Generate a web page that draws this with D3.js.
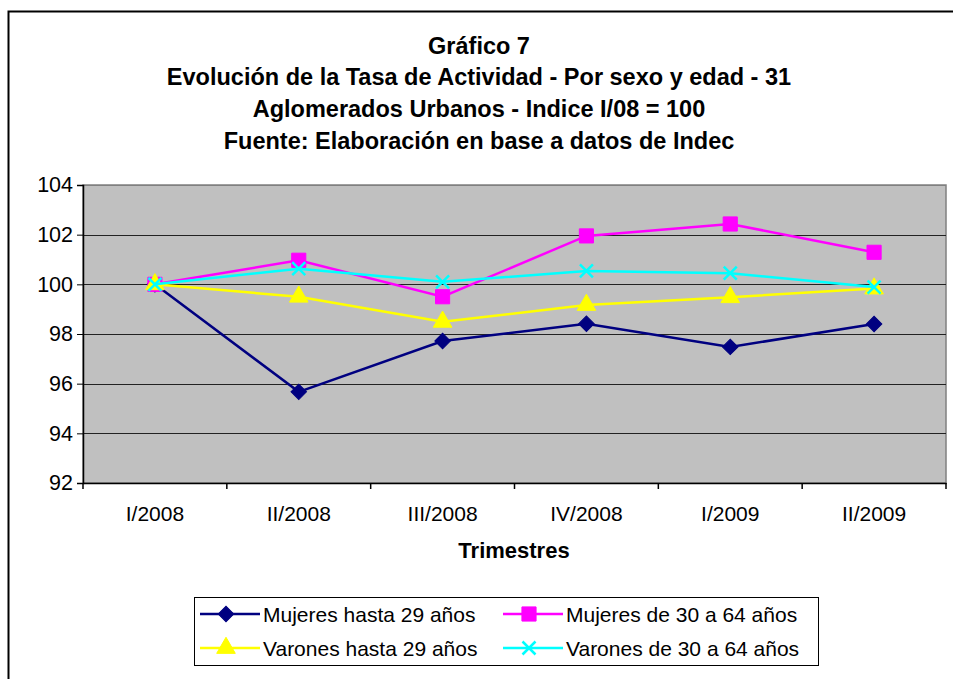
<!DOCTYPE html>
<html>
<head>
<meta charset="utf-8">
<script src="https://cdn.jsdelivr.net/npm/d3@7"></script>
<style>
  body { margin: 0; background: #fff; }
  svg { display: block; font-family: "Liberation Sans", Arial, sans-serif; }
</style>
</head>
<body>
<div id="chart"></div>
<script>
const trimestres = ['I/2008', 'II/2008', 'III/2008', 'IV/2008', 'I/2009', 'II/2009']
const mujeresHasta29 = [100, 95.67, 97.72, 98.41, 97.48, 98.40]
const mujeres30a64 = [100, 100.97, 99.50, 101.95, 102.43, 101.29]
const varonesHasta29 = [100, 99.50, 98.49, 99.17, 99.48, 99.83]
const varones30a64 = [100, 100.63, 100.10, 100.54, 100.45, 99.89]
const yTicks = [92, 94, 96, 98, 100, 102, 104]
const titleLines = [
  'Gráfico 7',
  'Evolución de la Tasa de Actividad - Por sexo y edad - 31',
  'Aglomerados Urbanos - Indice I/08 = 100',
  'Fuente: Elaboración en base a datos de Indec'
]

const series = [
  { name: 'Mujeres hasta 29 años', values: mujeresHasta29, color: '#000080', symbol: 'diamond' },
  { name: 'Mujeres de 30 a 64 años', values: mujeres30a64, color: '#FF00FF', symbol: 'square' },
  { name: 'Varones hasta 29 años', values: varonesHasta29, color: '#FFFF00', symbol: 'triangle' },
  { name: 'Varones de 30 a 64 años', values: varones30a64, color: '#00FFFF', symbol: 'cross' }
]

const width = 953
const height = 679
const plot = { left: 83, top: 185, right: 946, bottom: 483 }
const FONT = '"Liberation Sans", Arial, sans-serif'

const svg = d3.select('#chart').append('svg')
    .attr('width', width)
    .attr('height', height)

// outer frame (only left and top visible in the crop)
svg.append('path')
    .attr('d', `M8.5,${height} V11.5 H${width}`)
    .attr('fill', 'none')
    .attr('stroke', '#000')
    .attr('stroke-width', 2)

const title = svg.append('text')
    .attr('text-anchor', 'middle')
    .attr('font-weight', 'bold')
    .attr('font-size', 23.5)
titleLines.forEach((line, i) => {
  title.append('tspan')
      .attr('x', 479)
      .attr('y', 53.5 + i * 31.7)
      .text(line)
})

const xScale = d3.scaleBand()
    .domain(trimestres)
    .range([plot.left, plot.right])

const yScale = d3.scaleLinear()
    .domain([92, 104])
    .range([plot.bottom, plot.top])

svg.append('rect')
    .attr('x', plot.left)
    .attr('y', plot.top)
    .attr('width', plot.right - plot.left)
    .attr('height', plot.bottom - plot.top)
    .attr('fill', '#C0C0C0')
    .attr('stroke', '#808080')
    .attr('stroke-width', 1.5)

svg.append('g')
    .selectAll('line')
    .data(yTicks.slice(1))
    .enter().append('line')
    .attr('x1', plot.left)
    .attr('x2', plot.right)
    .attr('y1', d => Math.round(yScale(d)) + 0.5)
    .attr('y2', d => Math.round(yScale(d)) + 0.5)
    .attr('stroke', d => d === 104 ? '#808080' : '#222')
    .attr('stroke-width', 1.2)

const yAxis = d3.axisLeft(yScale)
    .tickValues(yTicks)
    .tickSize(6)
    .tickPadding(4)

const yAxisEl = svg.append('g')
    .attr('transform', `translate(${plot.left}, 0)`)
    .call(yAxis)
yAxisEl.selectAll('text').attr('font-size', 21.5).attr('fill', '#000').attr('font-family', FONT)
yAxisEl.select('.domain').attr('stroke', '#000').attr('stroke-width', 1.5)

const xAxis = d3.axisBottom(xScale)
    .tickSize(0)
    .tickPadding(23)

const xAxisEl = svg.append('g')
    .attr('transform', `translate(0, ${plot.bottom})`)
    .call(xAxis)
xAxisEl.selectAll('text').attr('font-size', 21).attr('fill', '#000').attr('font-family', FONT)
xAxisEl.select('.domain').attr('stroke', '#000').attr('stroke-width', 1.5)

// category boundary ticks
xAxisEl.selectAll('.boundary')
    .data(trimestres.concat(['end']))
    .enter().append('line')
    .attr('x1', (d, i) => plot.left + i * xScale.step())
    .attr('x2', (d, i) => plot.left + i * xScale.step())
    .attr('y1', 0)
    .attr('y2', 6)
    .attr('stroke', '#000')
    .attr('stroke-width', 1.5)

svg.append('text')
    .attr('x', 514)
    .attr('y', 558)
    .attr('text-anchor', 'middle')
    .attr('font-weight', 'bold')
    .attr('font-size', 22)
    .text('Trimestres')

const cx = (d, i) => xScale(trimestres[i]) + xScale.bandwidth() / 2

const line = d3.line()
    .x(cx)
    .y(d => yScale(d))

function drawMarker(g, s, x, y) {
  if (s.symbol === 'cross') {
    const r = 6.5
    g.append('path')
        .attr('d', `M${x - r},${y - r}L${x + r},${y + r}M${x - r},${y + r}L${x + r},${y - r}`)
        .attr('stroke', s.color)
        .attr('stroke-width', 2.5)
        .attr('fill', 'none')
    return
  }
  const sym = {
    diamond: d3.symbol().type(d3.symbolSquare).size(120),
    square: d3.symbol().type(d3.symbolSquare).size(200),
    triangle: d3.symbol().type(d3.symbolTriangle).size(150)
  }[s.symbol]
  g.append('path')
      .attr('d', sym())
      .attr('transform', `translate(${x}, ${y})${s.symbol === 'diamond' ? ' rotate(45)' : ''}`)
      .attr('fill', s.color)
      .attr('stroke', s.color)
      .attr('stroke-width', 1)
}

const seriesGroups = svg.append('g')
    .selectAll('g')
    .data(series)
    .enter().append('g')

seriesGroups.append('path')
    .attr('d', s => line(s.values))
    .attr('fill', 'none')
    .attr('stroke', s => s.color)
    .attr('stroke-width', 2.5)

seriesGroups.each(function (s) {
  const g = d3.select(this)
  s.values.forEach((v, i) => drawMarker(g, s, cx(v, i), yScale(v)))
})

// legend
const legend = svg.append('g')
legend.append('rect')
    .attr('x', 194.5)
    .attr('y', 597.5)
    .attr('width', 624)
    .attr('height', 68)
    .attr('fill', '#fff')
    .attr('stroke', '#000')
    .attr('stroke-width', 1)

const legendItems = legend.selectAll('g.item')
    .data(series)
    .enter().append('g')
    .attr('class', 'item')
    .attr('transform', (s, i) => `translate(${i % 2 === 0 ? 200 : 503}, ${i < 2 ? 614 : 648})`)

legendItems.append('line')
    .attr('x1', 0)
    .attr('x2', 60)
    .attr('stroke', s => s.color)
    .attr('stroke-width', 2.5)

legendItems.each(function (s) {
  drawMarker(d3.select(this), s, 26, 0)
})

legendItems.append('text')
    .attr('x', 63)
    .attr('y', 7.5)
    .attr('font-size', 21)
    .text(s => s.name)
</script>
</body>
</html>
